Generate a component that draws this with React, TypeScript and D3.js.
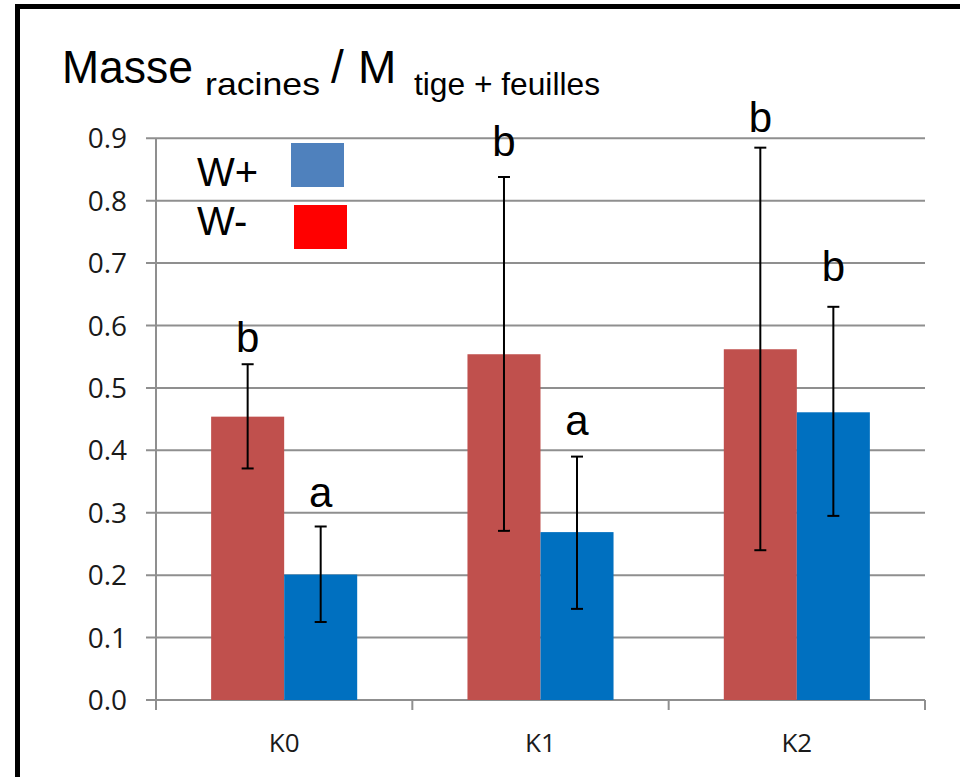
import React, { useEffect, useRef } from 'react';
import * as d3 from 'd3';

// categories and series
const categories = ['K0', 'K1', 'K2'];
const seriesNames = ['W-', 'W+'];

// W- (red bars)
const wMinusValues = [0.454, 0.554, 0.562];
const wMinusErrHigh = [0.538, 0.838, 0.885];
const wMinusErrLow = [0.371, 0.271, 0.24];
const wMinusLetters = ['b', 'b', 'b'];
const wMinusLetterY = [0.557, 0.871, 0.91];

// W+ (blue bars)
const wPlusValues = [0.201, 0.269, 0.461];
const wPlusErrHigh = [0.278, 0.39, 0.63];
const wPlusErrLow = [0.125, 0.146, 0.295];
const wPlusLetters = ['a', 'a', 'b'];
const wPlusLetterY = [0.309, 0.424, 0.672];

const yTicks = [0, 0.1, 0.2, 0.3, 0.4, 0.5, 0.6, 0.7, 0.8, 0.9];

const barColors = { 'W-': '#C0504D', 'W+': '#0070C0' };
const legendColors = { 'W+': '#4F81BD', 'W-': '#FF0000' };

const App = () => {
  const svgRef = useRef<SVGSVGElement>(null);

  useEffect(() => {
    const svg = d3.select(svgRef.current);
    svg.selectAll('*').remove();

    const arial = '"Liberation Sans", Arial, sans-serif';
    const calibri = '"Open Sans", "Noto Sans", sans-serif';

    // outer frame, runs off the right and bottom edges
    svg.append('rect')
      .attr('x', 17.5).attr('y', 6.5)
      .attr('width', 1100).attr('height', 1100)
      .attr('fill', 'white')
      .attr('stroke', 'black')
      .attr('stroke-width', 5);

    const x = d3.scaleBand().domain(categories).range([156, 925]).paddingInner(0).paddingOuter(0);
    const xInner = d3.scaleBand().domain(seriesNames).range([0, x.bandwidth()]).paddingInner(0).paddingOuter(0.755);
    const y = d3.scaleLinear().domain([0, 0.9]).range([700, 138.3]);

    // gridlines
    svg.append('g')
      .selectAll('line')
      .data(yTicks)
      .enter()
      .append('line')
      .attr('x1', 146).attr('x2', 925)
      .attr('y1', (d) => y(d)).attr('y2', (d) => y(d))
      .attr('stroke', '#8f8f8f')
      .attr('stroke-width', 2);

    // y axis line
    svg.append('line')
      .attr('x1', 156).attr('x2', 156)
      .attr('y1', y(0.9)).attr('y2', 710)
      .attr('stroke', '#8f8f8f').attr('stroke-width', 2);

    // x axis ticks
    const xEdges = [...categories.map((c) => x(c)!), 925];
    svg.append('g')
      .selectAll('line')
      .data(xEdges)
      .enter()
      .append('line')
      .attr('x1', (d) => d).attr('x2', (d) => d)
      .attr('y1', 700).attr('y2', 710)
      .attr('stroke', '#8f8f8f').attr('stroke-width', 2);

    // y tick labels
    svg.append('g')
      .selectAll('text')
      .data(yTicks)
      .enter()
      .append('text')
      .attr('x', 127)
      .attr('y', (d) => y(d))
      .attr('dy', '0.36em')
      .attr('text-anchor', 'end')
      .style('font-family', calibri)
      .style('font-size', '28px')
      .attr('fill', '#1a1a1a')
      .text((d) => d3.format('.1f')(d));

    // x labels
    svg.append('g')
      .selectAll('text')
      .data(categories)
      .enter()
      .append('text')
      .attr('x', (d) => x(d)! + x.bandwidth() / 2)
      .attr('y', 752)
      .attr('text-anchor', 'middle')
      .style('font-family', calibri)
      .style('font-size', '26px')
      .attr('fill', '#1a1a1a')
      .text((d) => d);

    const series = [
      { name: 'W-', values: wMinusValues, hi: wMinusErrHigh, lo: wMinusErrLow, letters: wMinusLetters, letterY: wMinusLetterY },
      { name: 'W+', values: wPlusValues, hi: wPlusErrHigh, lo: wPlusErrLow, letters: wPlusLetters, letterY: wPlusLetterY },
    ];

    series.forEach((s) => {
      const g = svg.append('g');
      const cx = (i: number) => x(categories[i])! + xInner(s.name)! + xInner.bandwidth() / 2;

      g.selectAll('rect')
        .data(s.values)
        .enter()
        .append('rect')
        .attr('x', (d, i) => x(categories[i])! + xInner(s.name)!)
        .attr('y', (d) => y(d))
        .attr('width', xInner.bandwidth())
        .attr('height', (d) => y(0) - y(d))
        .attr('fill', barColors[s.name]);

      // error bars
      s.values.forEach((v, i) => {
        const ex = cx(i);
        g.append('line')
          .attr('x1', ex).attr('x2', ex)
          .attr('y1', y(s.hi[i])).attr('y2', y(s.lo[i]))
          .attr('stroke', 'black').attr('stroke-width', 2);
        [s.hi[i], s.lo[i]].forEach((e) => {
          g.append('line')
            .attr('x1', ex - 6).attr('x2', ex + 6)
            .attr('y1', y(e)).attr('y2', y(e))
            .attr('stroke', 'black').attr('stroke-width', 2);
        });
        g.append('text')
          .attr('x', ex)
          .attr('y', y(s.letterY[i]))
          .attr('text-anchor', 'middle')
          .style('font-family', arial)
          .style('font-size', '42px')
          .attr('fill', 'black')
          .text(s.letters[i]);
      });
    });

    // legend
    const legend = [
      { name: 'W+', ty: 186, rx: 291, ry: 143 },
      { name: 'W-', ty: 235, rx: 294, ry: 205 },
    ];
    legend.forEach((l) => {
      svg.append('text')
        .attr('x', 197).attr('y', l.ty)
        .style('font-family', arial)
        .style('font-size', '40px')
        .attr('fill', 'black')
        .text(l.name);
      svg.append('rect')
        .attr('x', l.rx).attr('y', l.ry)
        .attr('width', 53).attr('height', 44)
        .attr('fill', legendColors[l.name]);
    });

    // title
    const title = svg.append('g')
      .style('font-family', arial)
      .attr('fill', 'black');
    title.append('text').attr('x', 62).attr('y', 83).style('font-size', '46px')
      .attr('textLength', 131).attr('lengthAdjust', 'spacingAndGlyphs').text('Masse');
    title.append('text').attr('x', 205).attr('y', 95).style('font-size', '32px')
      .attr('textLength', 115).attr('lengthAdjust', 'spacingAndGlyphs').text('racines');
    title.append('text').attr('x', 331).attr('y', 83).style('font-size', '46px').text('/');
    title.append('text').attr('x', 358).attr('y', 83).style('font-size', '46px').text('M');
    title.append('text').attr('x', 414).attr('y', 95).style('font-size', '32px')
      .attr('textLength', 186).attr('lengthAdjust', 'spacingAndGlyphs').text('tige + feuilles');
  }, []);

  return (
    <svg
      ref={svgRef}
      width={960}
      height={777}
      style={{ position: 'absolute', left: 0, top: 0, display: 'block' }}
    />
  );
};

export default App;
